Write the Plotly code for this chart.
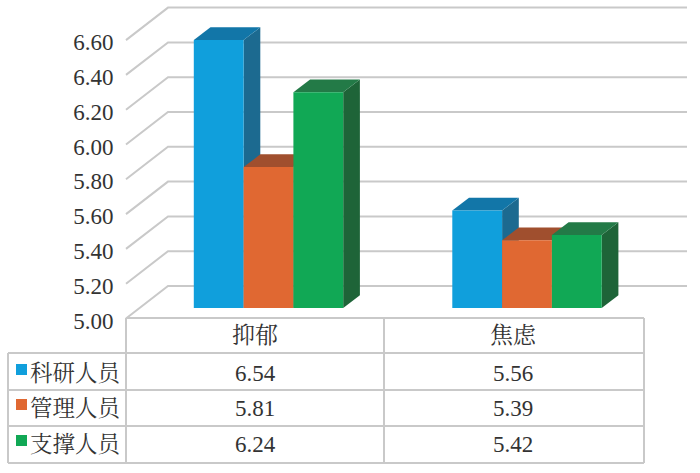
import plotly.graph_objects as go

categories = ["抑郁", "焦虑"]
series_names = ["科研人员", "管理人员", "支撑人员"]
research = [6.54, 5.56]
management = [5.81, 5.39]
support = [6.24, 5.42]
tick_values = [5.0, 5.2, 5.4, 5.6, 5.8, 6.0, 6.2, 6.4, 6.6]
tick_labels = ["5.00", "5.20", "5.40", "5.60", "5.80", "6.00", "6.20", "6.40", "6.60"]

front_colors = ["#109fdc", "#e06832", "#11a855"]
top_colors = ["#1276a8", "#a04f2e", "#237a47"]
side_colors = ["#1c6a90", "#8f4a2c", "#1e6438"]
GRID = "#c9c9c9"
TEXT = "#333333"
W, H = 700, 473
PXY = 174.0        # pixels per value unit
PXX = 258.5        # pixels per category step
X0_PX = 268.5      # pixel of category 0
Y5_PX = 308.0      # pixel of value 5.00 at bar front
FRONT_SHIFT_PX = 10.5
LABEL_SHIFT_PX = 12.5
BAR_W = 49.8 / PXX
DX = 16.7 / PXX
DY = 12.7 / PXY
FS = 23


def val(px):
    return 5 + (Y5_PX - px) / PXY


def xval(px):
    return (px - X0_PX) / PXX


yr = [val(H), val(0)]
yr_front = [yr[0] + LABEL_SHIFT_PX / PXY, yr[1] + LABEL_SHIFT_PX / PXY]
xr = [xval(0), xval(W)]
series = [research, management, support]
pos = list(range(len(categories)))

fig = go.Figure()

# back wall and left wall grid lines (same tick values, projected)
gx, gy = [], []
wall_off = (Y5_PX - 286.0) / PXY
front_off = -FRONT_SHIFT_PX / PXY
for t in tick_values:
    gx += [xval(126), xval(168), xval(687), None]
    gy += [t + front_off, t + wall_off, t + wall_off, None]
fig.add_trace(go.Scatter(x=gx, y=gy, mode="lines", line=dict(color=GRID, width=2),
                         hoverinfo="skip", showlegend=False))

# top and side faces of the bars
for s, vals in enumerate(series):
    for i, v in zip(pos, vals):
        left = i + (s - 1.5) * BAR_W
        right = left + BAR_W
        fig.add_trace(go.Scatter(
            x=[right, right + DX, right + DX, right, right],
            y=[5, 5 + DY, v + DY, v, 5],
            fill="toself", fillcolor=side_colors[s], mode="lines", line=dict(width=0),
            hoverinfo="skip", showlegend=False))
        fig.add_trace(go.Scatter(
            x=[left, left + DX, right + DX, right, left],
            y=[v, v + DY, v + DY, v, v],
            fill="toself", fillcolor=top_colors[s], mode="lines", line=dict(width=0),
            hoverinfo="skip", showlegend=False))

# front faces
for s, vals in enumerate(series):
    fig.add_trace(go.Bar(x=pos, y=[v - 5 for v in vals], base=5, name=series_names[s],
                         marker=dict(color=front_colors[s], line=dict(width=0)),
                         yaxis="y2", showlegend=False))

# invisible carrier of the labelled value axis
fig.add_trace(go.Scatter(x=[0], y=[5], mode="markers", marker=dict(opacity=0),
                         yaxis="y3", hoverinfo="skip", showlegend=False))

FONT = "Liberation Serif, Noto Serif CJK SC, Noto Sans CJK SC"
fig.update_layout(
    width=W, height=H, margin=dict(l=0, r=0, t=0, b=0), autosize=False,
    paper_bgcolor="white", plot_bgcolor="white",
    barmode="group", bargap=1 - 3 * BAR_W, bargroupgap=0,
    font=dict(family=FONT, size=FS, color=TEXT),
    xaxis=dict(range=xr, visible=False, fixedrange=True),
    yaxis=dict(range=yr, visible=False, fixedrange=True),
    yaxis2=dict(range=yr, visible=False, overlaying="y", fixedrange=True),
    yaxis3=dict(range=yr_front, overlaying="y", anchor="free", position=126 / W, side="left",
                tickmode="array", tickvals=tick_values, ticktext=tick_labels,
                showgrid=False, zeroline=False, showline=False,
                ticks="outside", ticklen=8, tickcolor="rgba(0,0,0,0)",
                tickfont=dict(family=FONT, size=FS, color=TEXT), fixedrange=True),
)

# data table
T_LEFT, T_STUB, T_MID, T_RIGHT = 8, 126, 384, 644
ROWS = [318, 353, 390, 426, 463]


def line(x0, y0, x1, y1):
    fig.add_shape(type="line", xref="paper", yref="paper",
                  x0=x0 / W, x1=x1 / W, y0=1 - y0 / H, y1=1 - y1 / H,
                  line=dict(color=GRID, width=2), layer="below")


line(T_STUB, ROWS[0], T_RIGHT, ROWS[0])
line(T_LEFT, ROWS[1], T_RIGHT, ROWS[1])
line(T_LEFT, ROWS[2], T_RIGHT, ROWS[2])
line(T_LEFT, ROWS[3], T_RIGHT, ROWS[3])
line(T_LEFT, ROWS[4], T_RIGHT, ROWS[4])
line(T_LEFT, ROWS[1], T_LEFT, ROWS[4])
line(T_STUB, ROWS[0], T_STUB, ROWS[4])
line(T_MID, ROWS[0], T_MID, ROWS[4])
line(T_RIGHT, ROWS[0], T_RIGHT, ROWS[4])


def label(x, y, text, size=FS):
    fig.add_annotation(xref="paper", yref="paper", x=x / W, y=1 - y / H, text=text,
                       showarrow=False, xanchor="center", yanchor="middle",
                       font=dict(family=FONT, size=size, color=TEXT))


col_x = [255, 513]
row_y = [373, 408, 444]
for c, name in zip(col_x, categories):
    label(c, 335, name)
for s, name in enumerate(series_names):
    label(75.5, row_y[s], name, 22.5)
    fig.add_shape(type="rect", xref="paper", yref="paper", x0=16 / W, x1=27 / W,
                  y0=1 - (row_y[s] - 9) / H, y1=1 - (row_y[s] + 2) / H,
                  fillcolor=front_colors[s], line=dict(width=0))
    for c, v in zip(col_x, series[s]):
        label(c, row_y[s], f"{v:.2f}")

fig.write_html("out.html", config={"displayModeBar": False},
               post_script="document.body.style.margin='0';document.body.style.overflow='hidden';")
